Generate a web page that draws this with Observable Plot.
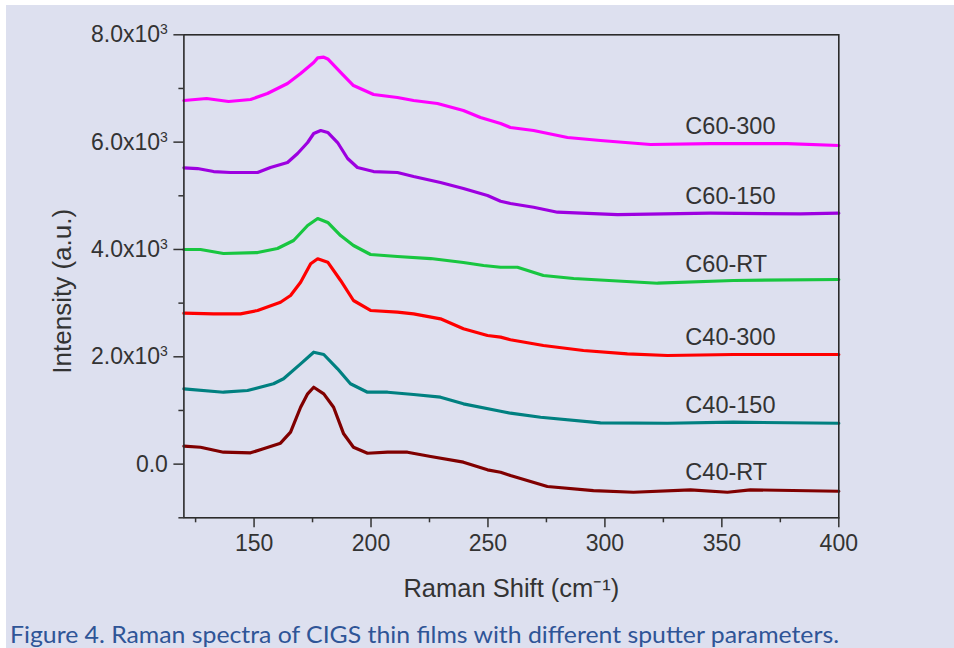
<!DOCTYPE html>
<html><head><meta charset="utf-8">
<script src="https://cdn.jsdelivr.net/npm/d3@7"></script>
<script src="https://cdn.jsdelivr.net/npm/@observablehq/plot@0.6"></script>
<style>
html,body{margin:0;padding:0;background:#fff;width:954px;height:648px;overflow:hidden;}
#fig{position:absolute;left:6px;top:5px;width:948px;height:643px;background:#dde0ef;}
#chart{position:absolute;left:0;top:0;}
#cap{position:absolute;left:-6px;top:605px;}
</style></head><body>
<div id="fig"><div id="chart"></div>
<svg id="cap" width="954" height="38"><text x="10" y="33" font-family="Lato, 'Open Sans', sans-serif" font-size="23" fill="#2f5597" textLength="829" lengthAdjust="spacingAndGlyphs">Figure 4. Raman spectra of CIGS thin films with different sputter parameters.</text></svg>
</div>
<script>
// Series names and colours
const names = ["C60-300", "C60-150", "C60-RT", "C40-300", "C40-150", "C40-RT"];
const colors = ["#ff00ff", "#9d00e0", "#18c640", "#ff0000", "#008080", "#800000"];

// Raman shift (cm^-1) and intensity (a.u.)
const x60_300 = [120,129.7,139.1,148.5,155.7,164.3,169.9,175.5,177.2,179.8,181.5,187.0,192.5,201.1,211.3,218.2,228.4,239.5,246.8,255.4,259.6,269.5,284.0,298.1,319.5,345.1,378.0,400];
const y60_300 = [6776,6813,6757,6794,6906,7093,7279,7484,7570,7583,7550,7298,7055,6888,6832,6776,6720,6589,6459,6347,6273,6217,6086,6030,5956,5974,5974,5937];

const x60_150 = [120,125.8,132.7,139.9,151.5,157.0,164.3,168.6,172.9,175.5,178.5,181.5,185.7,190.0,194.2,201.1,211.3,218.2,229.7,239.5,249.8,255.4,259.6,269.5,279.7,305.4,345.1,383.6,400];
const y60_150 = [5522,5508,5452,5434,5434,5527,5620,5788,5993,6161,6217,6180,5993,5695,5527,5452,5434,5359,5247,5136,5005,4899,4856,4787,4694,4651,4676,4664,4676];

const x60_rt = [120,127.1,136.9,151.5,160.0,166.9,172.9,177.2,181.5,187.0,192.5,199.8,211.3,225.5,239.5,248.1,255.4,262.6,273.7,286.6,322.5,354.9,400];
const y60_rt = [3999,3999,3925,3943,4018,4167,4447,4577,4503,4260,4074,3906,3869,3831,3757,3701,3669,3669,3515,3459,3371,3422,3440];

const x40_300 = [120,132.7,144.2,151.5,161.3,165.6,169.9,174.2,177.2,181.5,187.0,192.5,199.8,211.3,218.2,229.7,239.5,249.8,255.4,259.6,273.7,290.8,309.6,326.7,354.9,400];
const y40_300 = [2812,2801,2801,2863,3017,3142,3390,3733,3826,3763,3422,3049,2863,2831,2801,2708,2522,2397,2366,2317,2210,2117,2055,2024,2043,2043];

const x40_150 = [120,136.9,147.2,158.3,162.6,169.9,175.5,179.8,185.7,191.2,198.5,207.1,218.2,229.7,239.5,255.4,259.6,272.5,298.1,326.7,354.9,400];
const y40_150 = [1403,1340,1372,1497,1590,1869,2086,2043,1776,1497,1340,1340,1297,1247,1124,986,949,874,770,762,781,762];

const x40_rt = [120,127.1,136.9,148.5,154.0,161.3,165.6,169.9,172.9,175.5,179.8,184.0,188.3,192.5,198.5,207.1,215.6,225.5,239.5,249.8,255.4,259.6,275.4,295.1,312.2,336.6,352.4,362.2,400];
const y40_rt = [334,315,222,211,285,390,595,1060,1310,1433,1310,1060,565,315,203,222,222,142,36,-106,-151,-212,-417,-492,-524,-479,-524,-479,-505];

// Ticks
const xMajor = [150, 200, 250, 300, 350, 400];
const xMinor = [125, 175, 225, 275, 325, 375];
const yMajor = [0, 2000, 4000, 6000, 8000];
const yMinor = [-1000, 1000, 3000, 5000, 7000];

// Curve labels (text, position in data units)
const labelX = [334.4, 334.4, 334.4, 334.4, 334.4, 334.4];
const labelY = [6291, 4987, 3729, 2359, 1092, -156];

const xs = [x60_300, x60_150, x60_rt, x40_300, x40_150, x40_rt];
const ys = [y60_300, y60_150, y60_rt, y40_300, y40_150, y40_rt];
const rows = names.flatMap((name, i) => xs[i].map((x, j) => ({name, x, y: ys[i][j]})));

const fmtY = d => d === 0 ? "0.0" : (d / 1000).toFixed(1) + "x10\u00B3";

const chart = Plot.plot({
  width: 948, height: 605,
  marginLeft: 177.4, marginRight: 115.7, marginTop: 29.3, marginBottom: 92.7,
  style: {background: "transparent", fontFamily: "'Liberation Sans', Arial, sans-serif", color: "#333", overflow: "visible"},
  x: {domain: [120, 400], label: null},
  y: {domain: [-1000, 8000], label: null},
  color: {domain: names, range: colors},
  marks: [
    Plot.line(rows, {x: "x", y: "y", z: "name", stroke: "name", strokeWidth: 3.2, strokeLinejoin: "round"}),
    Plot.frame({stroke: "#2b2b2b", strokeWidth: 1.6}),
    Plot.axisX(xMajor, {tickSize: 10, tickPadding: 7, fontSize: 23, strokeWidth: 1.5, color: "#333", label: null}),
    Plot.axisX(xMinor, {tickSize: 5, tickFormat: () => "", strokeWidth: 1.5, color: "#333", label: null}),
    Plot.axisY(yMajor, {tickSize: 10, tickPadding: 6, fontSize: 23, strokeWidth: 1.5, color: "#333", tickFormat: fmtY, label: null}),
    Plot.axisY(yMinor, {tickSize: 5, tickFormat: () => "", strokeWidth: 1.5, color: "#333", label: null}),
    Plot.text(names, {x: labelX, y: labelY, text: Plot.identity, textAnchor: "start", fontSize: 23.5, fill: "#333"}),
    Plot.text(["Raman Shift (cm\u207B\u00B9)"], {frameAnchor: "bottom", textAnchor: "middle", lineAnchor: "middle", dy: 70.7, fontSize: 25.5, fill: "#333"}),
    Plot.text(["Intensity (a.u.)"], {frameAnchor: "left", textAnchor: "middle", lineAnchor: "middle", rotate: -90, dx: -121.4, dy: 15, fontSize: 26, fill: "#333"})
  ]
});
// Typeset the exponent of the y tick labels as a small raised superscript
d3.select(chart).selectAll("text").each(function () {
  const t = this.textContent;
  if (/x10\u00B3$/.test(t)) {
    const sel = d3.select(this);
    sel.text(t.slice(0, -1));
    sel.append("tspan").attr("font-size", 14).attr("dy", "-0.55em").text("3");
  }
});
document.getElementById("chart").appendChild(chart);
</script>
</body></html>
